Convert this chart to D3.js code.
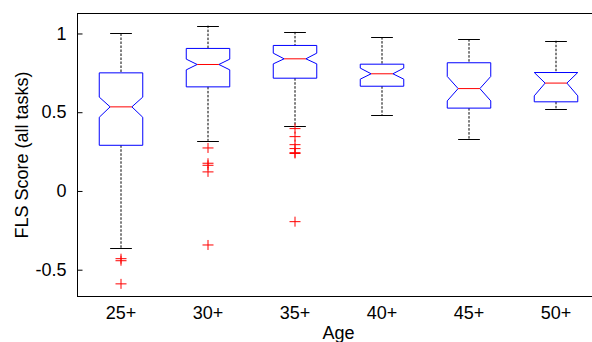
<!DOCTYPE html>
<html><head><meta charset="utf-8">
<script src="https://cdn.jsdelivr.net/npm/d3@7"></script>
<style>body{margin:0;background:#fff}svg{display:block}text{font-family:"Liberation Sans",Arial,sans-serif;fill:#000}</style>
</head><body><svg id="c" width="592" height="342"></svg>
<script>
const categories = ["25+","30+","35+","40+","45+","50+"];
const whiskerHi = [1.00, 1.05, 1.01, 0.977, 0.964, 0.954];
const q3        = [0.75, 0.905, 0.924, 0.805, 0.814, 0.752];
const notchHi   = [0.596, 0.837, 0.875, 0.78, 0.727, 0.752];
const medians   = [0.534, 0.803, 0.839, 0.744, 0.65, 0.685];
const notchLo   = [0.468, 0.769, 0.807, 0.71, 0.572, 0.604];
const q1        = [0.29, 0.661, 0.716, 0.665, 0.526, 0.566];
const whiskerLo = [-0.364, 0.318, 0.413, 0.481, 0.329, 0.523];
const outliers  = [
  [-0.43, -0.443, -0.59],
  [0.273, 0.176, 0.163, 0.121, -0.343],
  [0.396, 0.345, 0.294, 0.269, 0.243, 0.238, -0.195],
  [], [], []
];
const yTicks = [-0.5, 0, 0.5, 1];
const yLabel = "FLS Score (all tasks)";
const xLabel = "Age";

(function(){
const svg = d3.select("#c");
const pL = 77.5, pR = 599.5, pT = 13, pB = 296;
const x = d3.scaleBand().domain(categories).range([pL, pR]).padding(0);
const y = d3.scaleLinear().domain([-0.667, 1.13]).range([pB, pT]);
const bw = x.bandwidth();
const w = bw * 0.25, cw = bw * 0.125;

const g = svg.append("g");
g.append("line").attr("x1", pL).attr("x2", 592).attr("y1", pT + 0.5).attr("y2", pT + 0.5).attr("stroke", "#000");
g.append("line").attr("x1", pL).attr("x2", 592).attr("y1", pB + 0.5).attr("y2", pB + 0.5).attr("stroke", "#000");
g.append("line").attr("x1", pL).attr("x2", pL).attr("y1", pT).attr("y2", pB + 1).attr("stroke", "#000");

const yAxis = d3.axisLeft(y).tickValues(yTicks).tickSizeInner(-5).tickSizeOuter(0).tickPadding(11)
  .tickFormat(d => String(d));
const ya = svg.append("g").attr("transform", `translate(${pL},0)`).call(yAxis);
ya.select(".domain").remove();
ya.selectAll("line").attr("stroke", "#000");
ya.selectAll("text").attr("font-size", 18).attr("font-family", "Liberation Sans, Arial, sans-serif").attr("fill", "#000");

const xa = svg.append("g").attr("transform", `translate(0,${pB})`)
  .call(d3.axisBottom(x).tickSize(0).tickPadding(0));
xa.select(".domain").remove();
xa.selectAll("text").attr("font-size", 18).attr("dy", null).attr("y", 23).attr("fill", "#000")
  .attr("font-family", "Liberation Sans, Arial, sans-serif");

svg.append("text").attr("x", (pL + pR) / 2).attr("y", 338.5).attr("text-anchor", "middle")
  .attr("font-size", 18).text(xLabel);
svg.append("text").attr("transform", `translate(28,155) rotate(-90)`).attr("text-anchor", "middle")
  .attr("font-size", 18).text(yLabel);

categories.forEach((c, i) => {
  const cx = x(c) + bw / 2;
  const gg = svg.append("g");
  gg.append("line").attr("x1", cx).attr("x2", cx).attr("y1", y(whiskerHi[i])).attr("y2", y(q3[i]))
    .attr("stroke", "#000").attr("stroke-dasharray", "2.5,1.5").attr("stroke-width", 1);
  gg.append("line").attr("x1", cx).attr("x2", cx).attr("y1", y(q1[i])).attr("y2", y(whiskerLo[i]))
    .attr("stroke", "#000").attr("stroke-dasharray", "2.5,1.5").attr("stroke-width", 1);
  [whiskerHi[i], whiskerLo[i]].forEach(v => {
    gg.append("line").attr("x1", cx - cw).attr("x2", cx + cw).attr("y1", Math.round(y(v)) + 0.5).attr("y2", Math.round(y(v)) + 0.5)
      .attr("stroke", "#000");
  });
  const pts = [
    [cx - w, y(q1[i])], [cx - w, y(notchLo[i])], [cx - w / 2, y(medians[i])], [cx - w, y(notchHi[i])], [cx - w, y(q3[i])],
    [cx + w, y(q3[i])], [cx + w, y(notchHi[i])], [cx + w / 2, y(medians[i])], [cx + w, y(notchLo[i])], [cx + w, y(q1[i])]
  ];
  gg.append("path").attr("d", d3.line()(pts) + "Z").attr("fill", "none").attr("stroke", "#0000ff").attr("stroke-width", 1);
  gg.append("line").attr("x1", cx - w / 2).attr("x2", cx + w / 2).attr("y1", y(medians[i])).attr("y2", y(medians[i]))
    .attr("stroke", "#ff0000");
  outliers[i].forEach(v => {
    const yy = y(v);
    gg.append("path").attr("d", `M${cx - 5.5},${yy}H${cx + 5.5}M${cx},${yy - 5}V${yy + 5}`)
      .attr("stroke", "#ff0000").attr("fill", "none");
  });
});
})();
</script></body></html>
